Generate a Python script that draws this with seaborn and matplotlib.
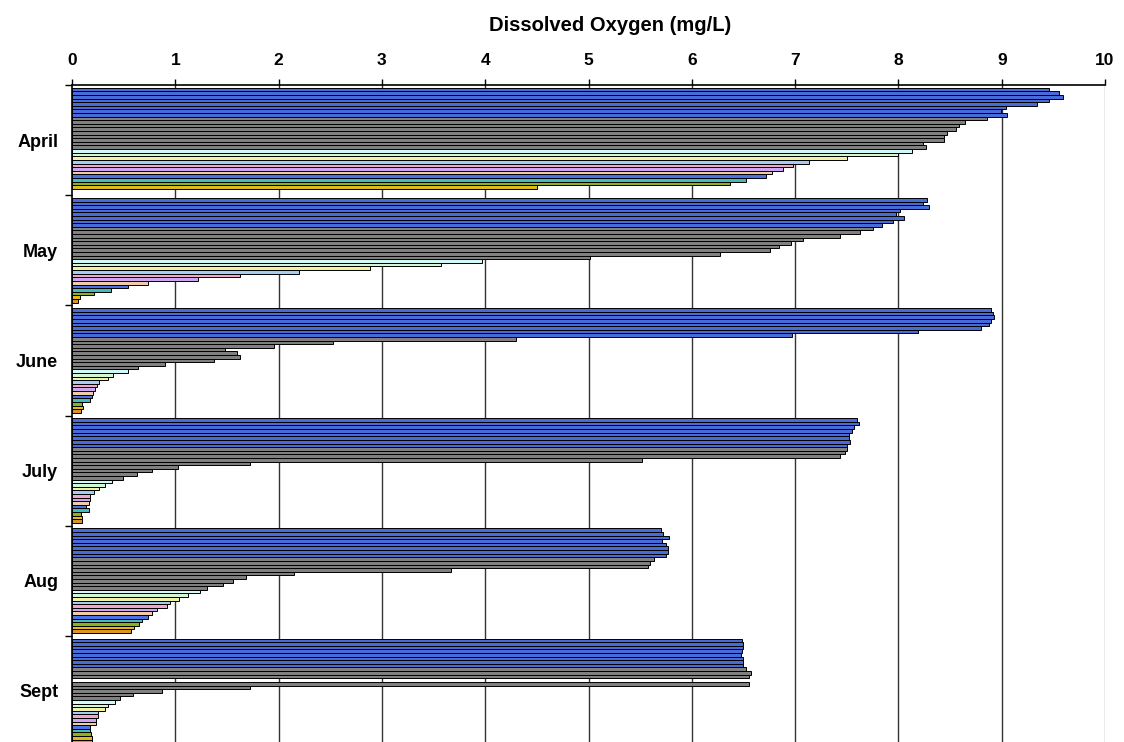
import numpy as np
import pandas as pd
import matplotlib
matplotlib.use("Agg")
import matplotlib.pyplot as plt
import seaborn as sns

months = ["April", "May", "June", "July", "Aug", "Sept"]
series = [f"S{i+1}" for i in range(29)]

april = [9.46, 9.55, 9.59, 9.46, 9.34, 9.04, 8.99, 9.05,
         8.86, 8.64, 8.59, 8.56, 8.47, 8.44, 8.44, 8.24, 8.27,
         8.13, 8.00, 7.50, 7.13, 6.98, 6.88, 6.78, 6.72, 6.52, 6.37, 4.50, np.nan]
may = [8.28, 8.24, 8.30, 8.02, 7.98, 8.05, 7.95, 7.84,
       7.75, 7.63, 7.43, 7.08, 6.96, 6.84, 6.76, 6.27, 5.01,
       3.97, 3.57, 2.88, 2.20, 1.63, 1.22, 0.74, 0.54, 0.38, 0.21, 0.08, 0.06]
june = [8.90, 8.92, 8.93, 8.90, 8.88, 8.80, 8.19, 6.97,
        4.30, 2.53, 1.96, 1.48, 1.60, 1.63, 1.37, 0.90, 0.64,
        0.54, 0.40, 0.35, 0.26, 0.24, 0.22, 0.20, 0.19, 0.17, 0.10, 0.11, 0.09]
july = [7.60, 7.62, 7.57, 7.55, 7.52, 7.52, 7.53, 7.50,
        7.50, 7.48, 7.43, 5.52, 1.72, 1.03, 0.77, 0.63, 0.49,
        0.39, 0.32, 0.26, 0.21, 0.17, 0.17, 0.16, 0.14, 0.16, 0.09, 0.10, 0.10]
aug = [5.70, 5.72, 5.78, 5.71, 5.75, 5.77, 5.77, 5.75,
       5.63, 5.60, 5.58, 3.67, 2.15, 1.68, 1.56, 1.46, 1.31,
       1.24, 1.12, 1.04, 0.95, 0.92, 0.82, 0.77, 0.74, 0.68, 0.65, 0.60, 0.57]
sept = [6.49, 6.50, 6.50, 6.49, 6.48, 6.50, 6.50, 6.50,
        6.52, 6.57, 6.55, np.nan, 6.55, 1.72, 0.87, 0.59, 0.46,
        0.42, 0.35, 0.32, 0.25, 0.25, 0.23, 0.23, 0.17, 0.17, 0.18, 0.19, 0.19]

series_colors = (["#2F5FF0"] * 8 + ["#808080"] * 9 +
                 ["#CCFFFF", "#CCFFCC", "#FFFF99", "#99CCFF", "#FF99CC", "#CC99FF",
                  "#FFCC99", "#3366FF", "#33CCCC", "#99CC00", "#FFCC00", "#FF9900"])

rows = []
for m, vals in zip(months, [april, may, june, july, aug, sept]):
    for s, v in zip(series, vals):
        rows.append({"month": m, "series": s, "DO": v})
df = pd.DataFrame(rows)

sns.set_style("white")
plt.rcParams["font.family"] = ["Liberation Sans", "DejaVu Sans"]
plt.rcParams["text.color"] = "black"
plt.rcParams["axes.labelcolor"] = "black"
plt.rcParams["xtick.color"] = "black"
plt.rcParams["ytick.color"] = "black"

fig = plt.figure(figsize=(11.24, 7.42), dpi=100)
ax = fig.add_axes([72/1124, 1 - 746/742, (1105-72)/1124, (746-85)/742])

sns.barplot(data=df, y="month", x="DO", hue="series", order=months,
            hue_order=series, palette=series_colors, orient="h",
            width=0.95, gap=0, edgecolor="black", linewidth=0.7,
            legend=False, ax=ax, errorbar=None)

ax.set_xlim(0, 10)
ax.set_ylim(5.5, -0.5)
ax.xaxis.tick_top()
ax.xaxis.set_label_position("top")
ax.set_xticks(range(0, 11))
ax.set_xticklabels([str(i) for i in range(0, 11)], fontsize=12.5, fontweight="bold")
ax.set_xlabel("Dissolved Oxygen (mg/L)", fontsize=14.5, fontweight="bold", labelpad=16)
ax.xaxis.label.set_x((610 - 72) / 1033)
ax.tick_params(axis="x", top=True, length=4, width=1, color="black", pad=8)

ax.set_yticks(np.arange(-0.5, 6.0, 1.0))
ax.set_yticklabels([])
ax.set_yticks(range(len(months)), minor=True)
ax.set_yticklabels(months, minor=True, fontsize=13, fontweight="bold")
ax.tick_params(axis="y", which="major", left=True, length=5, width=1, color="black")
ax.tick_params(axis="y", which="minor", left=False, length=0, pad=10)
ax.set_ylabel("")

ax.grid(False)
for xv in range(1, 11):
    ax.axvline(xv, color="#333333" if xv < 10 else "#999999", lw=1, zorder=0)
ax.set_axisbelow(True)

for side in ["right", "bottom"]:
    ax.spines[side].set_visible(False)
for side in ["left", "top"]:
    ax.spines[side].set_color("black")
    ax.spines[side].set_linewidth(1.2)

fig.savefig("out.png", dpi=100)
